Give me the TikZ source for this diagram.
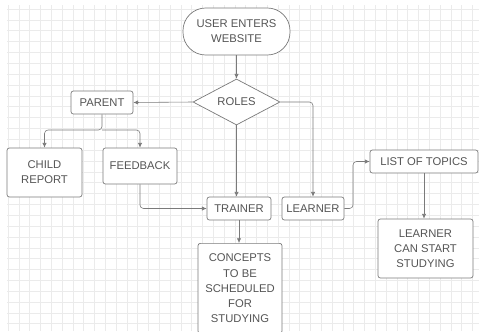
\documentclass[tikz,border=0pt]{standalone}
\usepackage{fontspec}
\setmainfont{Liberation Sans}
\usetikzlibrary{arrows.meta,shapes.geometric}

\definecolor{linegray}{HTML}{7A7A7A}
\definecolor{textgray}{HTML}{555555}
\definecolor{gridgray}{HTML}{EBEBEB}

\tikzset{
	box/.style={draw=linegray, line width=0.6pt, rounded corners=2pt, fill=white,
		text=textgray, font=\fontsize{9.6}{13}\selectfont, align=center, inner sep=2pt},
	arr/.style={draw=linegray, line width=0.5pt, rounded corners=3pt,
		-{Latex[length=4pt,width=3.6pt]}},
	gridline/.style={draw=gridgray, line width=0.35pt}
}

\begin{document}
\begin{tikzpicture}[x=0.03cm, y=-0.03cm]
			%%%%% START %%%%%
			
			\clip (0,0) rectangle (479,331);
			\fill[white] (0,0) rectangle (479,331);
			
			% background grid
			\foreach \gx in {8,18.8,...,479} \draw[gridline] (\gx,5) -- (\gx,331);
			\foreach \gy in {9,19.85,...,331} \draw[gridline] (7,\gy) -- (479,\gy);
			
			\node[box, rounded corners=0.68cm, minimum width=3.21cm, minimum height=1.41cm] (start) at (236.5,31.5) {USER ENTERS\\WEBSITE};
			\node[box, shape=diamond, rounded corners=0pt, aspect=1.9, inner sep=0pt, minimum width=2.61cm, minimum height=1.38cm] (roles) at (236.5,102) {ROLES};
			
			\node[box, minimum width=1.86cm, minimum height=0.69cm] (parent) at (102,102.5) {PARENT};
			\node[box, minimum width=2.25cm, minimum height=1.47cm] (child) at (44.5,172.5) {CHILD\\REPORT};
			\node[box, minimum width=2.22cm, minimum height=1.08cm] (feedback) at (140,166) {FEEDBACK};
			
			\node[box, minimum width=1.92cm, minimum height=0.69cm] (trainer) at (239,208.5) {TRAINER};
			\node[box, minimum width=1.86cm, minimum height=0.69cm] (learner) at (313,208.5) {LEARNER};
			\node[box, minimum width=2.52cm, minimum height=2.7cm, anchor=north] (concepts) at (240,243) {CONCEPTS\\TO BE\\SCHEDULED\\FOR\\STUDYING};
			
			\node[box, minimum width=3.24cm, minimum height=0.69cm] (topics) at (424,161.5) {LIST OF TOPICS};
			\node[box, minimum width=2.85cm, minimum height=1.77cm] (studying) at (425.5,248.5) {LEARNER\\CAN START\\STUDYING};
			
			\coordinate (split) at (102,130);
			\coordinate (bend) at (353,208.5);
			
			% connectors
			\draw[arr] (start) -- (roles);
			\draw[arr] (roles.west) -- (parent.east);
			\draw[arr] (parent.south) -- (split) -| (child.north);
			\draw[arr] (split) -| (feedback.north);
			\draw[arr] (feedback.south) |- (trainer.west);
			\draw[arr] (roles.south) -- (roles.south |- trainer.north);
			\draw[arr] (roles.east) -| (learner.north);
			\draw[arr] (trainer.south) -- (trainer.south |- concepts.north);
			\draw[arr] (learner.east) -- (bend) |- (topics.west);
			\draw[arr] (topics.south) -- (topics.south |- studying.north);
			
			%%%%% END %%%%%
		\end{tikzpicture}
\end{document}
